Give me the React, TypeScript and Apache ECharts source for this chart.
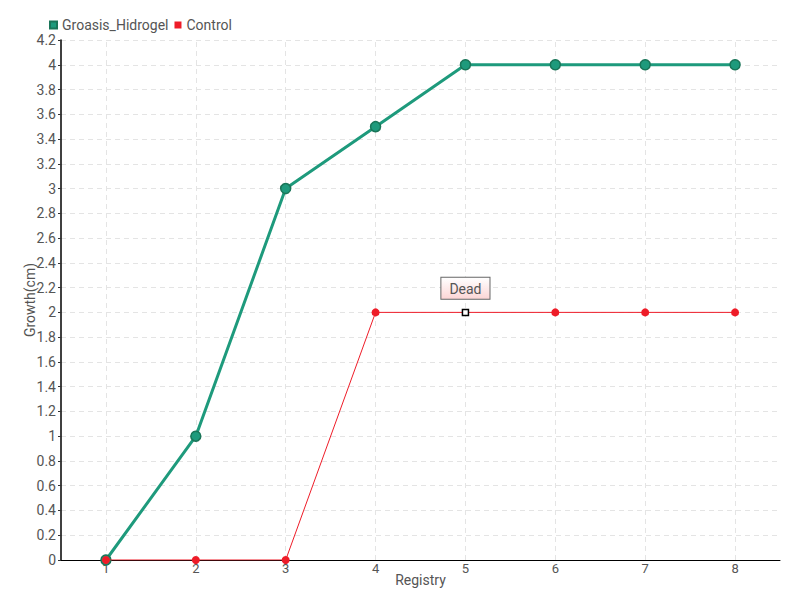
import React, { useEffect, useRef } from "react";
import * as echarts from "echarts";

const categories = ["1", "2", "3", "4", "5", "6", "7", "8"];
const hidrogelValues = [0, 1, 3, 3.5, 4, 4, 4, 4];
const controlValues = [0, 0, 0, 2, 2, 2, 2, 2];
const deadIndex = 4;
const deadLabel = "Dead";

const FONT = "Roboto, sans-serif";
const TEXT = "#555";

export default function App() {
  const ref = useRef<HTMLDivElement>(null);
  useEffect(() => {
    if (!ref.current) return;
    const chart = echarts.init(ref.current, undefined, { renderer: "svg" });
    const controlData = controlValues.map((v, i) =>
      i === deadIndex
        ? {
            value: v,
            symbol: "rect",
            symbolSize: 6,
            itemStyle: { color: "#fff", borderColor: "#000", borderWidth: 1.5 },
            label: {
              show: true,
              position: "top",
              distance: 10,
              formatter: deadLabel,
              color: TEXT,
              fontFamily: FONT,
              fontSize: 14,
              padding: [4, 8, 3, 8],
              borderColor: "#666",
              borderWidth: 1,
              backgroundColor: {
                type: "linear",
                x: 0, y: 0, x2: 0, y2: 1,
                colorStops: [
                  { offset: 0, color: "#ffffff" },
                  { offset: 1, color: "#fcd6d6" },
                ],
              },
            },
          }
        : v
    );
    chart.setOption({
      animation: false,
      textStyle: { fontFamily: FONT },
      legend: {
        left: 44,
        top: 13,
        itemWidth: 7,
        itemHeight: 7,
        itemGap: 6,
        icon: "rect",
        textStyle: { color: TEXT, fontSize: 14, fontFamily: FONT },
        data: ["Groasis_Hidrogel", "Control"],
      },
      grid: { left: 61, right: 20, top: 40, bottom: 40 },
      xAxis: {
        type: "category",
        data: categories,
        boundaryGap: true,
        name: "Registry",
        nameLocation: "middle",
        nameGap: 13,
        nameMoveOverlap: false,
        nameTextStyle: { color: TEXT, fontSize: 14, fontFamily: FONT },
        axisLine: { lineStyle: { color: "#000", width: 1 } },
        axisTick: { alignWithLabel: true, length: 6, lineStyle: { color: "#666" } },
        axisLabel: { color: TEXT, fontSize: 13, margin: 2, fontFamily: FONT },
        splitLine: { show: false },
      },
      yAxis: {
        type: "value",
        min: 0,
        max: 4.2,
        interval: 0.2,
        name: "Growth(cm)",
        nameLocation: "middle",
        nameGap: 24,
        nameMoveOverlap: false,
        nameTextStyle: { color: TEXT, fontSize: 14, fontFamily: FONT },
        axisLine: { show: true, lineStyle: { color: "#000", width: 1.5 } },
        axisTick: { show: true, length: 3, lineStyle: { color: "#333" } },
        axisLabel: { color: TEXT, fontSize: 14, margin: 5, fontFamily: FONT },
        splitLine: { lineStyle: { color: "#e4e4e4", type: [5, 4] } },
      },
      series: [
        {
          name: "Groasis_Hidrogel",
          type: "line",
          data: hidrogelValues,
          color: "#1e9a7c",
          symbol: "circle",
          symbolSize: 10,
          lineStyle: { width: 3, color: "#1e9a7c" },
          itemStyle: { color: "#1e9a7c", borderColor: "#1a7558", borderWidth: 1.5 },
          z: 2,
          markLine: {
            silent: true,
            symbol: "none",
            label: { show: false },
            lineStyle: { color: "#e4e4e4", type: [5, 4], width: 1 },
            data: categories.map((c) => ({ xAxis: c })),
            z: 0,
          },
        },
        {
          name: "Control",
          type: "line",
          data: controlData,
          color: "#ee1c28",
          symbol: "circle",
          symbolSize: 8,
          lineStyle: { width: 1, color: "#ee1c28" },
          itemStyle: { color: "#ee1c28" },
          z: 3,
        },
      ],
    });
    return () => chart.dispose();
  }, []);
  return <div ref={ref} style={{ width: 800, height: 600, position: "absolute", left: 0, top: 0 }} />;
}
